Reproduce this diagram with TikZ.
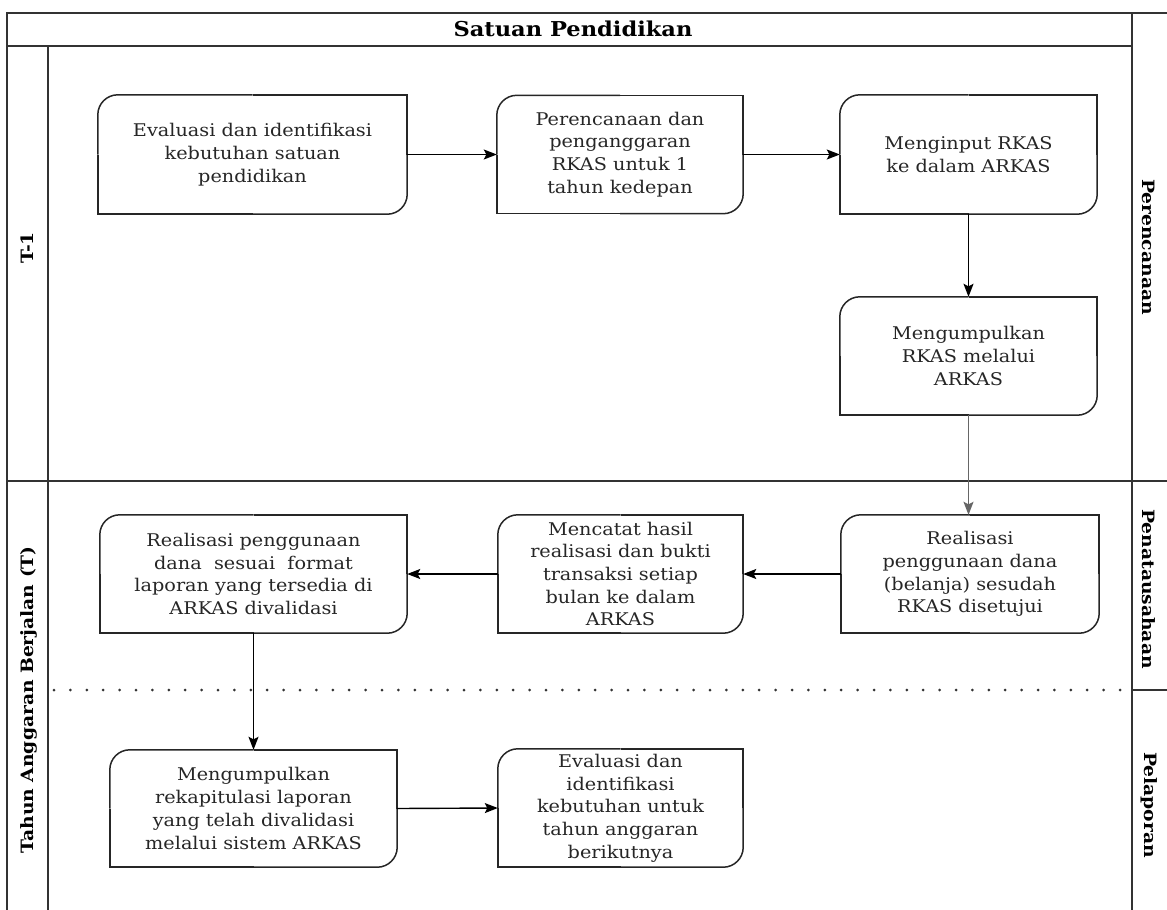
\documentclass[tikz,border=0pt]{standalone}
\usepackage{fontspec}
\setmainfont{DejaVu Serif}[FakeStretch=1.1]
\usetikzlibrary{arrows.meta}
\begin{document}
\begin{tikzpicture}[x=1pt,y=-1pt,
  frame/.style={line width=1.8pt, draw=black!80},
  boxline/.style={line width=1.5pt, draw=black!85},
  proc/.style={inner sep=0pt, align=center, font=\fontsize{17.5}{22.7}\selectfont, text=black!85},
  conn/.style={line width=1.4pt, draw=black, -{Stealth[length=13pt,width=10pt,inset=2.5pt]}},
  lbl/.style={font=\bfseries\fontsize{17}{20}\selectfont, inner sep=0pt}
]
\useasboundingbox (0,0) rectangle (1167,910);
% frame
\draw[frame] (7,910) -- (7,13) -- (1167,13);
\draw[frame] (7,46) -- (1132,46);
\draw[frame] (48,46) -- (48,910);
\draw[frame] (1132,13) -- (1132,910);
\draw[frame] (7,481) -- (1167,481);
\draw[frame] (1132,690) -- (1167,690);
\draw[line width=3pt, line cap=round, dash pattern=on 0pt off 16.4pt, draw=black!80] (54,690) -- (1128,690);

% labels
\node[lbl, font=\bfseries\fontsize{20.5}{22}\selectfont] (title) at (573,29) {Satuan Pendidikan};
\node[lbl, rotate=90] (t1) at (27,248) {T-1};
\node[lbl, rotate=90] (tt) at (29,700) {Tahun Anggaran Berjalan (T)};
\node[lbl, rotate=-90] (per) at (1149,247) {Perencanaan};
\node[lbl, rotate=-90] (pen) at (1149,589) {Penatausahaan};
\node[lbl, rotate=-90] (pel) at (1149,805) {Pelaporan};

% process nodes
\node[proc, minimum width=309, minimum height=119] (b1) at (252.5,154.5)
  {Evaluasi dan identifikasi\\kebutuhan satuan\\pendidikan};
\node[proc, minimum width=246, minimum height=118] (b2) at (620,154.5)
  {Perencanaan dan\\penganggaran\\RKAS untuk 1\\tahun kedepan};
\node[proc, minimum width=257, minimum height=119] (b3) at (968.5,154.5)
  {Menginput RKAS\\ke dalam ARKAS};
\node[proc, minimum width=257, minimum height=118] (b4) at (968.5,356)
  {Mengumpulkan\\RKAS melalui\\ARKAS};
\node[proc, minimum width=258, minimum height=118] (b5) at (970,574)
  {Realisasi\\penggunaan dana\\(belanja) sesudah\\RKAS disetujui};
\node[proc, minimum width=245, minimum height=118] (b6) at (620.5,574)
  {Mencatat hasil\\realisasi dan bukti\\transaksi setiap\\bulan ke dalam\\ARKAS};
\node[proc, minimum width=307, minimum height=118] (b7) at (253.5,574)
  {Realisasi penggunaan\\dana\ \ sesuai\ \ format\\laporan yang tersedia di\\ARKAS divalidasi};
\node[proc, minimum width=287, minimum height=117] (b8) at (253.5,808.5)
  {Mengumpulkan\\rekapitulasi laporan\\yang telah divalidasi\\melalui sistem ARKAS};
\node[proc, minimum width=245, minimum height=118] (b9) at (620.5,808)
  {Evaluasi dan\\identifikasi\\kebutuhan untuk\\tahun anggaran\\berikutnya};

\foreach \n in {b1,b2,b3,b4,b5,b6,b7,b8,b9} {
  \draw[boxline, rounded corners=20pt] (\n.west) -- (\n.north west) -- (\n.north);
  \draw[boxline] (\n.north) -- (\n.north east) -- (\n.east);
  \draw[boxline, rounded corners=20pt] (\n.east) -- (\n.south east) -- (\n.south);
  \draw[boxline] (\n.south) -- (\n.south west) -- (\n.west);
}

% connectors
\draw[conn] (b1.east) -- (b2.west);
\draw[conn] (b2.east) -- (b3.west);
\draw[conn] (b3.south) -- (b4.north);
\draw[conn, draw=black!60] (b4.south) -- (b4.south |- b5.north);
\draw[conn] (b5.west) -- (b6.east);
\draw[conn] (b6.west) -- (b7.east);
\draw[conn] (b7.south) -- (b7.south |- b8.north);
\draw[conn] (b8.east) -- (b9.west);
\end{tikzpicture}
\end{document}
